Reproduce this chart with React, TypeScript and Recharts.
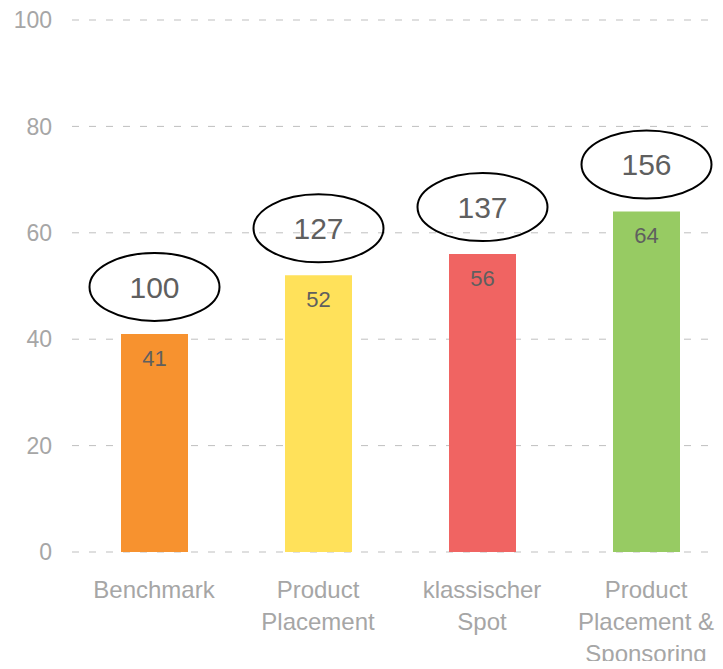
import React from 'react';
import { BarChart, Bar, XAxis, YAxis, CartesianGrid, Cell, LabelList } from 'recharts';

const categories = ['Benchmark', 'Product Placement', 'klassischer Spot', 'Product Placement & Sponsoring'];
const tickLines = [['Benchmark'], ['Product', 'Placement'], ['klassischer', 'Spot'], ['Product', 'Placement &', 'Sponsoring']];
const shares = [41, 52, 56, 64];
const indexValues = [100, 127, 137, 156];
const barColors = ['#F7922F', '#FFE15A', '#F06462', '#97CB63'];
const yTicks = [0, 20, 40, 60, 80, 100];

const data = categories.map((name, i) => ({ name, share: shares[i], index: indexValues[i] }));

const FONT = '"Liberation Sans", Arial, sans-serif';

const CategoryTick = (props: any) => {
    const { x, y, payload } = props;
    const i = categories.indexOf(payload.value);
    const lines = tickLines[i] || [payload.value];
    return (
        <text x={x} y={y + 44} textAnchor="middle" fill="#a6a6a6" fontSize={24} fontFamily={FONT}>
            {lines.map((l, k) => (
                <tspan key={k} x={x} dy={k === 0 ? 0 : 32}>{l}</tspan>
            ))}
        </text>
    );
};

const IndexBubble = (props: any) => {
    const { x, y, width, index } = props;
    const cx = x + width / 2;
    const cy = y - 47;
    return (
        <g>
            <ellipse cx={cx} cy={cy} rx={65} ry={34} fill="none" stroke="#000" strokeWidth={2} />
            <text x={cx} y={cy} dy="0.36em" textAnchor="middle" fill="#5f5f5f" fontSize={30} fontFamily={FONT}>
                {indexValues[index]}
            </text>
        </g>
    );
};

export default function App() {
    return (
        <div style={{ margin: -8, width: 723, height: 669, overflow: 'hidden' }}>
            <BarChart
                width={740}
                height={669}
                data={data}
                margin={{ top: 20, right: 12, left: 0, bottom: 0 }}
            >
                <CartesianGrid strokeDasharray="7 10" stroke="#bfbfbf" vertical={false} />
                <XAxis
                    dataKey="name"
                    interval={0}
                    height={117}
                    axisLine={false}
                    tickLine={false}
                    tickSize={0}
                    tick={<CategoryTick />}
                />
                <YAxis
                    domain={[0, 100]}
                    ticks={yTicks}
                    width={72}
                    axisLine={false}
                    tickLine={false}
                    tickSize={0}
                    tickMargin={20}
                    tick={{ fill: '#a6a6a6', fontSize: 23, fontFamily: FONT }}
                />
                <Bar dataKey="share" barSize={67} isAnimationActive={false}>
                    {data.map((d, i) => (
                        <Cell key={d.name} fill={barColors[i]} />
                    ))}
                    <LabelList dataKey="share" position="insideTop" offset={16} fill="#5f5f5f" fontSize={22} fontFamily={FONT} />
                    <LabelList dataKey="index" content={<IndexBubble />} />
                </Bar>
            </BarChart>
        </div>
    );
}
